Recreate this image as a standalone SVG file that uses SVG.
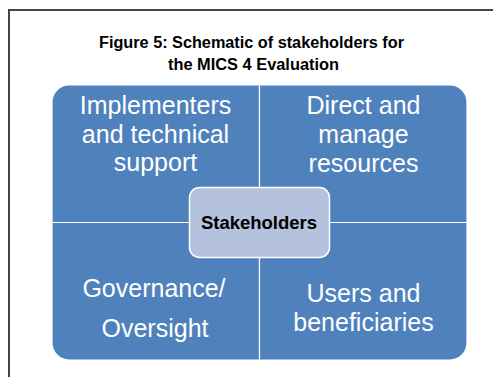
<svg xmlns="http://www.w3.org/2000/svg" width="493" height="377" viewBox="0 0 493 377">
<style>
.q{fill:#4F81BD;stroke:#FFFFFF;stroke-width:1.2}
.qt{font-family:"Liberation Sans",Arial,sans-serif;font-size:25px;fill:#FFFFFF;text-anchor:middle}
.title{font-family:"Liberation Sans",Arial,sans-serif;font-weight:bold;font-size:16px;fill:#000000;text-anchor:middle}
.center{fill:#B4C2DD;stroke:#FFFFFF;stroke-width:1.5}
.ct{font-family:"Liberation Sans",Arial,sans-serif;font-weight:bold;font-size:18.5px;fill:#000000;text-anchor:middle}
.frame{stroke:#454545;stroke-width:2;fill:none}
</style>
<rect width="493" height="377" fill="#FFFFFF"/>
<path class="frame" d="M9,377 V10 H493"/>
<g id="title">
<text class="title" x="251.5" y="48" textLength="305" lengthAdjust="spacingAndGlyphs">Figure 5: Schematic of stakeholders for</text>
<text class="title" x="253.5" y="69.5" textLength="171" lengthAdjust="spacingAndGlyphs">the MICS 4 Evaluation</text>
</g>
<g id="implementers">
<path class="q" d="M52,222.5 V102 A17,17 0 0 1 69,85 H259.5 V222.5 Z"/>
<text class="qt" x="155.5" y="114">Implementers</text>
<text class="qt" x="155.5" y="143">and technical</text>
<text class="qt" x="155.5" y="171">support</text>
</g>
<g id="direct">
<path class="q" d="M259.5,85 H450 A17,17 0 0 1 467,102 V222.5 H259.5 Z"/>
<text class="qt" x="363.5" y="113.5">Direct and</text>
<text class="qt" x="363.5" y="142.5">manage</text>
<text class="qt" x="363.5" y="171.5">resources</text>
</g>
<g id="governance">
<path class="q" d="M52,222.5 H259.5 V360 H69 A17,17 0 0 1 52,343 Z"/>
<text class="qt" x="154" y="296.5">Governance/</text>
<text class="qt" x="155" y="337">Oversight</text>
</g>
<g id="users">
<path class="q" d="M259.5,222.5 H467 V343 A17,17 0 0 1 450,360 H259.5 Z"/>
<text class="qt" x="363.5" y="301.5">Users and</text>
<text class="qt" x="363.5" y="331">beneficiaries</text>
</g>
<g id="stakeholders">
<rect class="center" x="189.5" y="187.5" width="140" height="70" rx="10" ry="10"/>
<text class="ct" x="259" y="229">Stakeholders</text>
</g>
</svg>
